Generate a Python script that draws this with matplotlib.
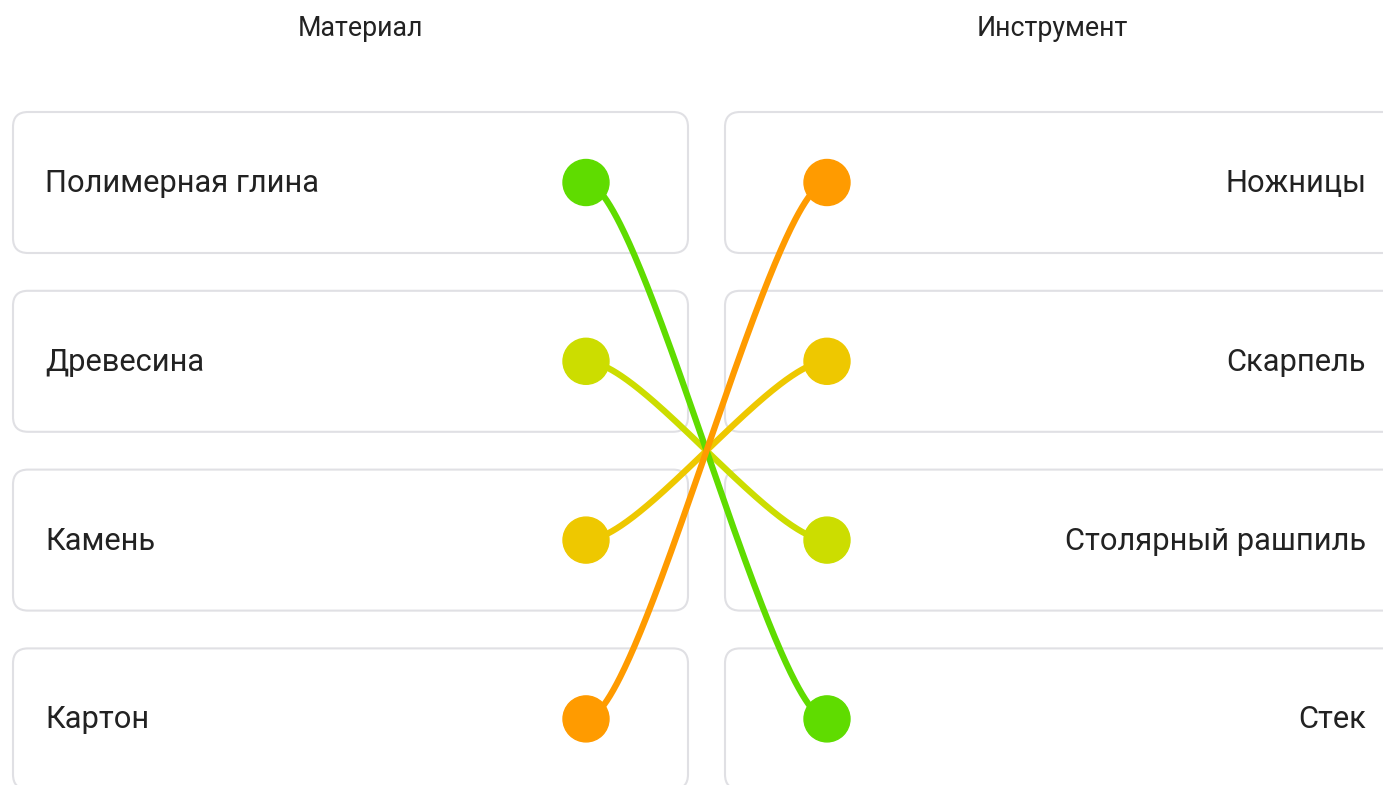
import matplotlib
matplotlib.use("Agg")
import matplotlib.pyplot as plt
import numpy as np
from matplotlib.patches import FancyBboxPatch, Circle

plt.rcParams["font.family"] = ["Roboto", "DejaVu Sans"]

# data
headers = ["Материал", "Инструмент"]
left_items = ["Полимерная глина", "Древесина", "Камень", "Картон"]
right_items = ["Ножницы", "Скарпель", "Столярный рашпиль", "Стек"]
left_colors = ["#5fdc00", "#ccdd00", "#eec800", "#ff9b00"]
right_colors = ["#ff9b00", "#eec800", "#ccdd00", "#5fdc00"]
# (left index, right index)
links = [(1, 2), (2, 1), (0, 3), (3, 0)]

W, H = 1383, 785
fig = plt.figure(figsize=(W / 100, H / 100), dpi=100)
ax = fig.add_axes([0, 0, 1, 1])
ax.set_xlim(0, W)
ax.set_ylim(H, 0)
ax.axis("off")

row_y = [182.5 + 178.8 * i for i in range(4)]
box_h = 141
lx0, lx1 = 13, 688
rx0, rx1 = 725, 1400
ldot, rdot = 586, 827

for y in row_y:
    for x0, x1 in ((lx0, lx1), (rx0, rx1)):
        ax.add_patch(FancyBboxPatch((x0, y - box_h / 2), x1 - x0, box_h,
                                    boxstyle="round,pad=0,rounding_size=15",
                                    fc="white", ec="#e0e0e4", lw=1.5, zorder=1))

ax.text(360, 29, headers[0], ha="center", va="center", fontsize=19.3, color="#222222")
ax.text(1052, 29, headers[1], ha="center", va="center", fontsize=19.3, color="#222222")

for y, s in zip(row_y, left_items):
    ax.text(45, y + 1, s, ha="left", va="center", fontsize=22.2, color="#222222")
for y, s in zip(row_y, right_items):
    ax.text(1366, y + 1, s, ha="right", va="center", fontsize=22.2, color="#222222")

# bezier links
t = np.linspace(0, 1, 200)
dx = 55
for li, ri in links:
    p0 = np.array([ldot, row_y[li]])
    p3 = np.array([rdot, row_y[ri]])
    p1 = p0 + [dx, 0]
    p2 = p3 - [dx, 0]
    pts = ((1 - t) ** 3)[:, None] * p0 + (3 * (1 - t) ** 2 * t)[:, None] * p1 \
        + (3 * (1 - t) * t ** 2)[:, None] * p2 + (t ** 3)[:, None] * p3
    ax.plot(pts[:, 0], pts[:, 1], color=left_colors[li], lw=4.5,
            solid_capstyle="round", zorder=2)

for y, c in zip(row_y, left_colors):
    ax.add_patch(Circle((ldot, y), 23, color=c, zorder=3))
for y, c in zip(row_y, right_colors):
    ax.add_patch(Circle((rdot, y), 23, color=c, zorder=3))

fig.savefig("out.png", dpi=100)
